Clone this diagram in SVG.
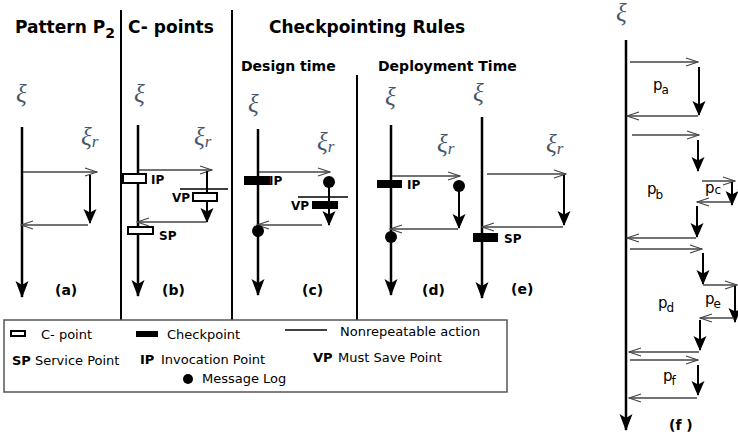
<svg xmlns="http://www.w3.org/2000/svg" width="738" height="436" viewBox="0 0 738 436">
  <defs>
    <!-- filled notched head for timelines and reply arrows -->
    <marker id="solid" markerUnits="userSpaceOnUse" viewBox="0 -7 17 14" markerWidth="17" markerHeight="14" refX="16" refY="0" orient="auto">
      <path d="M0,-6.5 L17,0 L0,6.5 L4,0 Z" fill="#000"/>
    </marker>
    <marker id="solid-sm" markerUnits="userSpaceOnUse" viewBox="0 -7 15 14" markerWidth="15" markerHeight="14" refX="14" refY="0" orient="auto">
      <path d="M0,-6.5 L15,0 L0,6.5 L3.5,0 Z" fill="#000"/>
    </marker>
    <!-- open chevron head for message arrows -->
    <marker id="open" markerUnits="userSpaceOnUse" viewBox="-1 -5 14 10" markerWidth="14" markerHeight="10" refX="12" refY="0" orient="auto">
      <path d="M0,-4 L12,0 L0,4" fill="none" stroke="#444" stroke-width="1.3"/>
    </marker>
  </defs>
  <style>
    .tl { stroke:#000; stroke-width:2.5; fill:none; marker-end:url(#solid); }
    .rep { stroke:#000; stroke-width:2; fill:none; marker-end:url(#solid-sm); }
    .msg { stroke:#444; stroke-width:1.3; fill:none; marker-end:url(#open); }
    .div { stroke:#000; stroke-width:2; }
    .nr { stroke:#000; stroke-width:1.6; }
    .cp { fill:#fff; stroke:#000; stroke-width:2; }
    .ck { fill:#000; }
    .log { fill:#000; }
    .xi { font-family:"Liberation Serif","DejaVu Serif",serif; font-style:italic; font-size:25px; fill:#46566a; }
    .ttl { font-family:"DejaVu Sans",sans-serif; font-weight:bold; font-size:17px; fill:#000; }
    .sub { font-family:"DejaVu Sans",sans-serif; font-weight:bold; font-size:14px; fill:#000; }
    .lbl { font-family:"DejaVu Sans",sans-serif; font-weight:bold; font-size:12px; fill:#000; }
    .cap { font-family:"DejaVu Sans",sans-serif; font-weight:bold; font-size:14px; fill:#000; }
    .leg { font-family:"DejaVu Sans",sans-serif; font-size:13px; fill:#000; }
    .legb { font-family:"DejaVu Sans",sans-serif; font-weight:bold; font-size:13px; fill:#000; }
    .p { font-family:"DejaVu Sans",sans-serif; font-size:15px; fill:#000; }
  </style>
  <rect width="738" height="436" fill="#fff"/>

  <!-- headings and column dividers -->
  <g id="headings">
    <text class="ttl" x="15" y="33">Pattern P<tspan font-size="14" dy="5">2</tspan></text>
    <text class="ttl" x="128" y="33">C- points</text>
    <text class="ttl" x="269" y="33">Checkpointing Rules</text>
    <text class="sub" x="241" y="71">Design time</text>
    <text class="sub" x="378" y="71">Deployment Time</text>
    <line class="div" x1="121" y1="10" x2="121" y2="320"/>
    <line class="div" x1="232" y1="10" x2="232" y2="320"/>
    <line class="div" x1="357" y1="75" x2="357" y2="320"/>
  </g>

  <!-- (a) plain request/reply -->
  <g id="panel-a">
    <text class="xi" x="16" y="102">ξ</text>
    <text class="xi" x="81" y="145">ξ<tspan font-size="17" dy="2">r</tspan></text>
    <g class="connectors">
      <path class="tl" d="M22,127 V297"/>
      <path class="msg" d="M23,172 H97"/>
      <path class="rep" d="M90,175 V223"/>
      <path class="msg" d="M88,225 H21"/>
    </g>
    <text class="cap" x="55" y="295">(a)</text>
  </g>

  <!-- (b) C-points -->
  <g id="panel-b">
    <text class="xi" x="134" y="102">ξ</text>
    <text class="xi" x="194" y="145">ξ<tspan font-size="17" dy="2">r</tspan></text>
    <g class="connectors">
      <path class="tl" d="M138,125 V296"/>
      <path class="msg" d="M139,170 H212"/>
      <path class="rep" d="M207,171 V222"/>
      <path class="msg" d="M206,222 H137"/>
    </g>
    <line class="nr" x1="180" y1="189" x2="228" y2="189"/>
    <rect class="cp" x="193" y="193" width="24" height="8"/>
    <text class="lbl" x="172" y="202">VP</text>
    <rect class="cp" x="123" y="174" width="23" height="9"/>
    <text class="lbl" x="151" y="184">IP</text>
    <rect class="cp" x="128" y="227" width="25" height="7"/>
    <text class="lbl" x="159" y="240">SP</text>
    <text class="cap" x="162" y="295">(b)</text>
  </g>

  <!-- (c) design-time checkpoints -->
  <g id="panel-c">
    <text class="xi" x="248" y="112">ξ</text>
    <text class="xi" x="317" y="150">ξ<tspan font-size="17" dy="2">r</tspan></text>
    <g class="connectors">
      <path class="tl" d="M258,129 V295"/>
      <path class="msg" d="M259,172 H330"/>
      <path class="rep" d="M329,181 V225"/>
      <path class="msg" d="M322,225 H257"/>
    </g>
    <circle class="log" cx="329" cy="182" r="6"/>
    <line class="nr" x1="298" y1="197" x2="348" y2="197"/>
    <rect class="ck" x="312" y="201" width="26" height="8"/>
    <text class="lbl" x="291" y="210">VP</text>
    <circle class="log" cx="258" cy="231" r="6"/>
    <rect class="ck" x="244" y="176" width="26" height="9"/>
    <text class="lbl" x="269" y="185">IP</text>
    <text class="cap" x="302" y="295">(c)</text>
  </g>

  <!-- (d) deployment time, logged reply -->
  <g id="panel-d">
    <text class="xi" x="385" y="105">ξ</text>
    <text class="xi" x="437" y="152">ξ<tspan font-size="17" dy="2">r</tspan></text>
    <g class="connectors">
      <path class="tl" d="M391,125 V295"/>
      <path class="msg" d="M392,176 H460"/>
      <path class="rep" d="M459,186 V228"/>
      <path class="msg" d="M458,229 H390"/>
    </g>
    <circle class="log" cx="459" cy="186" r="6"/>
    <circle class="log" cx="391" cy="237" r="6"/>
    <rect class="ck" x="377" y="180" width="25" height="8"/>
    <text class="lbl" x="407" y="189">IP</text>
    <text class="cap" x="422" y="295">(d)</text>
  </g>

  <!-- (e) deployment time, service point -->
  <g id="panel-e">
    <text class="xi" x="473" y="101">ξ</text>
    <text class="xi" x="546" y="152">ξ<tspan font-size="17" dy="2">r</tspan></text>
    <g class="connectors">
      <path class="tl" d="M482,117 V298"/>
      <path class="msg" d="M487,174 H566"/>
      <path class="rep" d="M564,175 V225"/>
      <path class="msg" d="M563,227 H482"/>
    </g>
    <rect class="ck" x="473" y="233" width="25" height="9"/>
    <text class="lbl" x="504" y="243">SP</text>
    <text class="cap" x="511" y="294">(e)</text>
  </g>

  <!-- (f) nested patterns -->
  <g id="panel-f">
    <text class="xi" x="616" y="21" font-size="18">ξ</text>
    <g class="connectors">
      <path class="tl" d="M626,40 V430"/>
      <path class="msg" d="M630,62 H698"/>
      <path class="rep" d="M699,67 V115"/>
      <path class="msg" d="M698,116 H627"/>
      <path class="msg" d="M632,135 H699"/>
      <path class="rep" d="M698,140 V171"/>
      <path class="msg" d="M702,181 H735"/>
      <path class="rep" d="M732,182 V205"/>
      <path class="msg" d="M731,202 H697"/>
      <path class="rep" d="M697,206 V237"/>
      <path class="msg" d="M696,238 H627"/>
      <path class="msg" d="M630,249 H702"/>
      <path class="rep" d="M703,253 V284"/>
      <path class="msg" d="M703,285 H737"/>
      <path class="rep" d="M735,286 V322"/>
      <path class="msg" d="M734,318 H700"/>
      <path class="rep" d="M700,320 V350"/>
      <path class="msg" d="M699,352 H629"/>
      <path class="msg" d="M630,360 H698"/>
      <path class="rep" d="M698,365 V395"/>
      <path class="msg" d="M697,398 H629"/>
    </g>
    <text class="p" x="653" y="90">p<tspan font-size="12" dx="-1" dy="4">a</tspan></text>
    <text class="p" x="647" y="194">p<tspan font-size="12" dx="-1" dy="5">b</tspan></text>
    <text class="p" x="705" y="193">p<tspan font-size="12" dy="1">c</tspan></text>
    <text class="p" x="658" y="308">p<tspan font-size="12" dx="-1" dy="4">d</tspan></text>
    <text class="p" x="705" y="304">p<tspan font-size="12" dx="-1" dy="4">e</tspan></text>
    <text class="p" x="663" y="381">p<tspan font-size="12" dx="-1" dy="4">f</tspan></text>
    <text class="cap" x="669" y="430">(f )</text>
  </g>

  <!-- key -->
  <g id="legend">
    <rect x="4" y="320" width="503" height="72" fill="#fff" stroke="#555" stroke-width="1.5"/>
    <rect class="cp" x="11" y="331" width="14" height="5" stroke-width="1.8"/>
    <text class="leg" x="41" y="339">C- point</text>
    <rect class="ck" x="136" y="331" width="22" height="6"/>
    <text class="leg" x="167" y="339">Checkpoint</text>
    <line class="nr" x1="285" y1="330" x2="327" y2="330"/>
    <text class="leg" x="340" y="336">Nonrepeatable action</text>
    <text class="legb" x="12" y="365">SP</text>
    <text class="leg" x="35" y="365">Service Point</text>
    <text class="legb" x="140" y="364">IP</text>
    <text class="leg" x="161" y="364">Invocation Point</text>
    <text class="legb" x="313" y="362">VP</text>
    <text class="leg" x="338" y="362">Must Save Point</text>
    <circle class="log" cx="188" cy="379" r="5"/>
    <text class="leg" x="202" y="383">Message Log</text>
  </g>
</svg>
